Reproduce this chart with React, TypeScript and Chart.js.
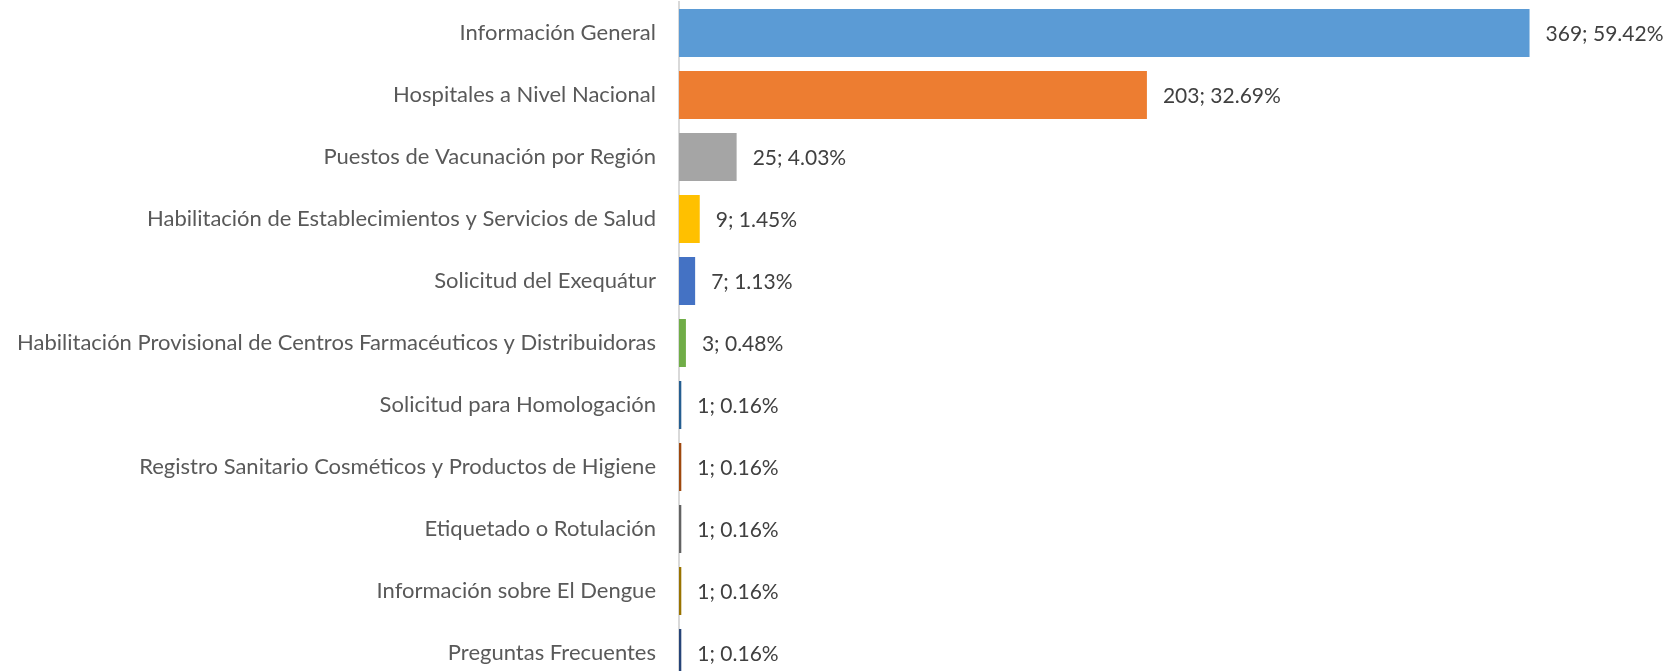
import React, { useEffect, useRef } from "react";
import { Chart, registerables } from "chart.js";

Chart.register(...registerables);

const categories = [
  "Información General",
  "Hospitales a Nivel Nacional",
  "Puestos de Vacunación por Región",
  "Habilitación de Establecimientos y Servicios de Salud",
  "Solicitud del Exequátur",
  "Habilitación Provisional de Centros Farmacéuticos y Distribuidoras",
  "Solicitud para Homologación",
  "Registro Sanitario Cosméticos y Productos de Higiene",
  "Etiquetado o Rotulación",
  "Información sobre El Dengue",
  "Preguntas Frecuentes",
];

const values = [369, 203, 25, 9, 7, 3, 1, 1, 1, 1, 1];

const barColors = [
  "#5B9BD5",
  "#ED7D31",
  "#A5A5A5",
  "#FFC000",
  "#4472C4",
  "#70AD47",
  "#255E91",
  "#9E480E",
  "#636363",
  "#997300",
  "#264478",
];

const FONT = "Lato, 'Open Sans', sans-serif";

const valueLabels = {
  id: "valueLabels",
  afterDatasetsDraw(chart: any) {
    const ctx = chart.ctx;
    const meta = chart.getDatasetMeta(0);
    const total = values.reduce((a, b) => a + b, 0);
    ctx.save();
    ctx.font = `21px ${FONT}`;
    ctx.fillStyle = "#404040";
    ctx.textAlign = "left";
    ctx.textBaseline = "middle";
    meta.data.forEach((bar: any, i: number) => {
      const pct = ((values[i] / total) * 100).toFixed(2);
      ctx.fillText(`${values[i]}; ${pct}%`, bar.x + 16, bar.y + 1);
    });
    ctx.restore();
  },
};

export default function App() {
  const ref = useRef<HTMLCanvasElement>(null);
  useEffect(() => {
    document.body.style.margin = "0";
    const chart = new Chart(ref.current!, {
      type: "bar",
      data: {
        labels: categories,
        datasets: [
          {
            data: values,
            backgroundColor: barColors,
            borderWidth: 0,
            barPercentage: 0.774,
            categoryPercentage: 1,
          },
        ],
      },
      options: {
        indexAxis: "y",
        responsive: true,
        maintainAspectRatio: false,
        animation: false,
        layout: { padding: { top: 2, bottom: 2, right: 68, left: 0 } },
        plugins: { legend: { display: false }, tooltip: { enabled: false } },
        scales: {
          x: { display: false, min: 0, max: 400 },
          y: {
            grid: { display: false, drawTicks: false },
            border: { display: true, color: "#d9d9d9", width: 2 },
            ticks: {
              color: "#595959",
              font: { family: FONT, size: 22 },
              padding: 23,
              autoSkip: false,
            },
            afterFit(scale: any) {
              scale.width = 679;
              scale.paddingTop = 0;
              scale.paddingBottom = 0;
            },
          },
        },
      },
      plugins: [valueLabels],
    });
    return () => chart.destroy();
  }, []);
  return (
    <div style={{ position: "fixed", left: 0, top: 0, width: 1669, height: 671, overflow: "hidden", background: "#fff" }}>
      <div style={{ position: "relative", width: 1669, height: 686 }}>
        <canvas ref={ref} />
      </div>
    </div>
  );
}
